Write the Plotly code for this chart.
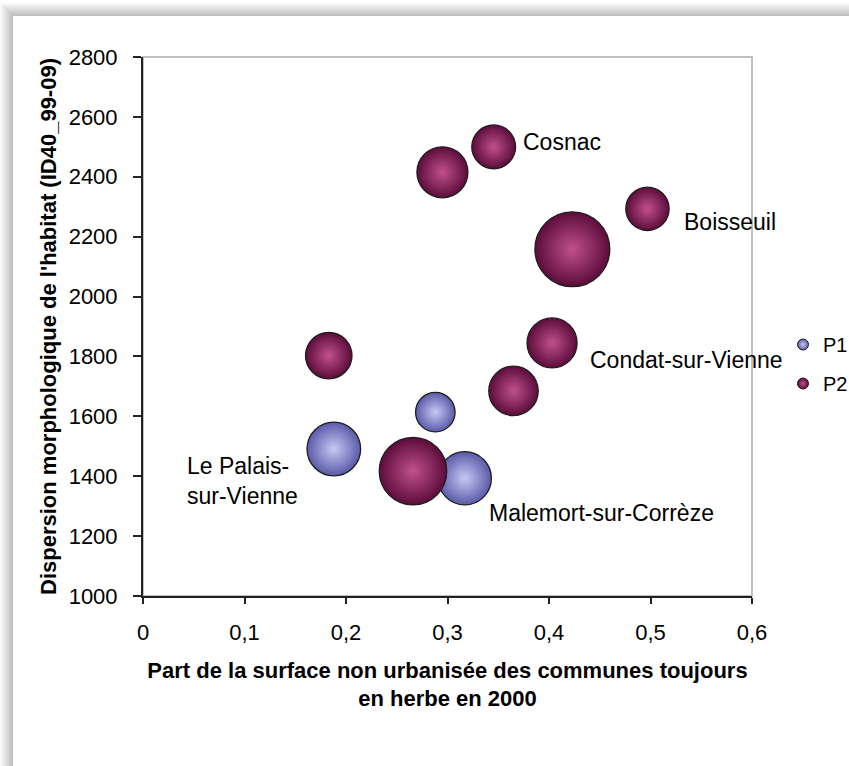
import plotly.graph_objects as go

# Share of non-urbanised area still under grass in 2000 (x), dispersion index (y), bubble weight
p1_x = [0.288, 0.188, 0.317]
p1_y = [1614, 1491, 1393]
p1_size = [390, 720, 710]
p1_names = ["", "Le Palais-<br>sur-Vienne", "Malemort-sur-Corrèze"]

p2_x = [0.183, 0.295, 0.3455, 0.423, 0.497, 0.403, 0.365, 0.266]
p2_y = [1803, 2415, 2500, 2158, 2293, 1845, 1685, 1417]
p2_size = [540, 650, 480, 1400, 470, 625, 610, 1140]
p2_names = ["", "", "Cosnac", "", "Boisseuil", "Condat-sur-Vienne", "", ""]

x_ticks = [0, 0.1, 0.2, 0.3, 0.4, 0.5, 0.6]
y_ticks = [1000, 1200, 1400, 1600, 1800, 2000, 2200, 2400, 2600, 2800]

W, H = 849, 766
ML, MR, MT, MB = 143, 97, 57, 170
PW, PH = W - ML - MR, H - MT - MB

FONT = "Liberation Sans, Arial, sans-serif"

SERIES = [
    ("P1", p1_x, p1_y, p1_size, "#5a5aa8", "#c8c8f4"),
    ("P2", p2_x, p2_y, p2_size, "#5c0c3a", "#c0508f"),
]


def px_x(px):
    return (px - ML) / PW


def px_y(py):
    return (H - MB - py) / PH


fig = go.Figure()

for name, xs, ys, sz, edge, centre in SERIES:
    fig.add_trace(go.Scatter(
        x=xs, y=ys, mode="markers", name=name, legendgroup=name, showlegend=False,
        marker=dict(size=sz, sizemode="area", sizeref=0.5, color=edge,
                    gradient=dict(type="radial", color=centre),
                    line=dict(color="#1e1e1e", width=1.3), opacity=1),
    ))
    # small legend-only key for the series
    fig.add_trace(go.Scatter(
        x=[None], y=[None], mode="markers", name=name, legendgroup=name, showlegend=True,
        marker=dict(size=11, color=edge, gradient=dict(type="radial", color=centre),
                    line=dict(color="#1e1e1e", width=1)),
    ))

# Commune labels next to their bubbles (pixel offsets from bubble centre)
label_offsets = {
    "Cosnac": dict(xanchor="left", xshift=27, yshift=5, align="left"),
    "Boisseuil": dict(xanchor="left", xshift=35, yshift=-13, align="left"),
    "Condat-sur-Vienne": dict(xanchor="left", xshift=36, yshift=-17, align="left"),
    "Le Palais-<br>sur-Vienne": dict(xanchor="right", xshift=-34, yshift=-32, align="left"),
    "Malemort-sur-Corrèze": dict(xanchor="left", xshift=22, yshift=-35, align="left"),
}
annotations = []
for xs, ys, names in ((p1_x, p1_y, p1_names), (p2_x, p2_y, p2_names)):
    for xv, yv, nm in zip(xs, ys, names):
        if nm:
            annotations.append(dict(
                x=xv, y=yv, xref="x", yref="y", text=nm, showarrow=False,
                font=dict(family=FONT, size=23, color="#000000"),
                yanchor="middle", **label_offsets[nm]))

# Panel with soft drop shadow on the top/left, then the plot-area frame
shapes = []
for k in range(13, 0, -1):
    shapes.append(dict(type="rect", xref="paper", yref="paper", layer="below",
                       x0=px_x(13 - k), y0=px_y(H + 30), x1=px_x(W + 30), y1=px_y(16 - k),
                       line=dict(width=0), fillcolor="rgba(0,0,0,0.018)"))
shapes.append(dict(type="rect", xref="paper", yref="paper", layer="below",
                   x0=px_x(13), y0=px_y(H + 30), x1=px_x(W + 30), y1=px_y(16),
                   line=dict(width=0), fillcolor="#ffffff"))
shapes.append(dict(type="rect", xref="paper", yref="paper", layer="below",
                   x0=0, y0=0, x1=1, y1=1,
                   line=dict(color="#c0c0c0", width=2), fillcolor="rgba(0,0,0,0)"))

fig.update_layout(
    width=W, height=H,
    margin=dict(l=ML, r=MR, t=MT, b=MB, autoexpand=False),
    paper_bgcolor="#ffffff",
    plot_bgcolor="rgba(0,0,0,0)",
    separators=", ",
    font=dict(family=FONT, size=22, color="#000000"),
    shapes=shapes,
    annotations=annotations,
    showlegend=True,
    legend=dict(x=px_x(783), y=px_y(364), xanchor="left", yanchor="middle",
                itemsizing="trace", tracegroupgap=10,
                font=dict(family=FONT, size=20, color="#000000"),
                bgcolor="rgba(0,0,0,0)"),
    xaxis=dict(
        range=[0, 0.6], tickvals=x_ticks, showgrid=False, zeroline=False,
        showline=True, linecolor="#222222", linewidth=2,
        ticks="outside", ticklen=6, tickwidth=2, tickcolor="#222222",
        tickfont=dict(family=FONT, size=22, color="#000000"),
        ticklabelstandoff=10,
        title=dict(text="<b>Part de la surface non urbanisée des communes toujours<br>en herbe en 2000</b>",
                   font=dict(family=FONT, size=22, color="#000000"), standoff=18),
    ),
    yaxis=dict(
        range=[1000, 2800], tickvals=y_ticks, showgrid=False, zeroline=False,
        showline=True, linecolor="#222222", linewidth=2,
        ticks="outside", ticklen=8, tickwidth=2, tickcolor="#222222",
        tickfont=dict(family=FONT, size=22, color="#000000"),
        ticklabelstandoff=11,
        title=dict(text="<b>Dispersion morphologique de l'habitat (ID40_99-09)</b>",
                   font=dict(family=FONT, size=22, color="#000000"), standoff=6),
    ),
)

fig.write_html("out.html")
